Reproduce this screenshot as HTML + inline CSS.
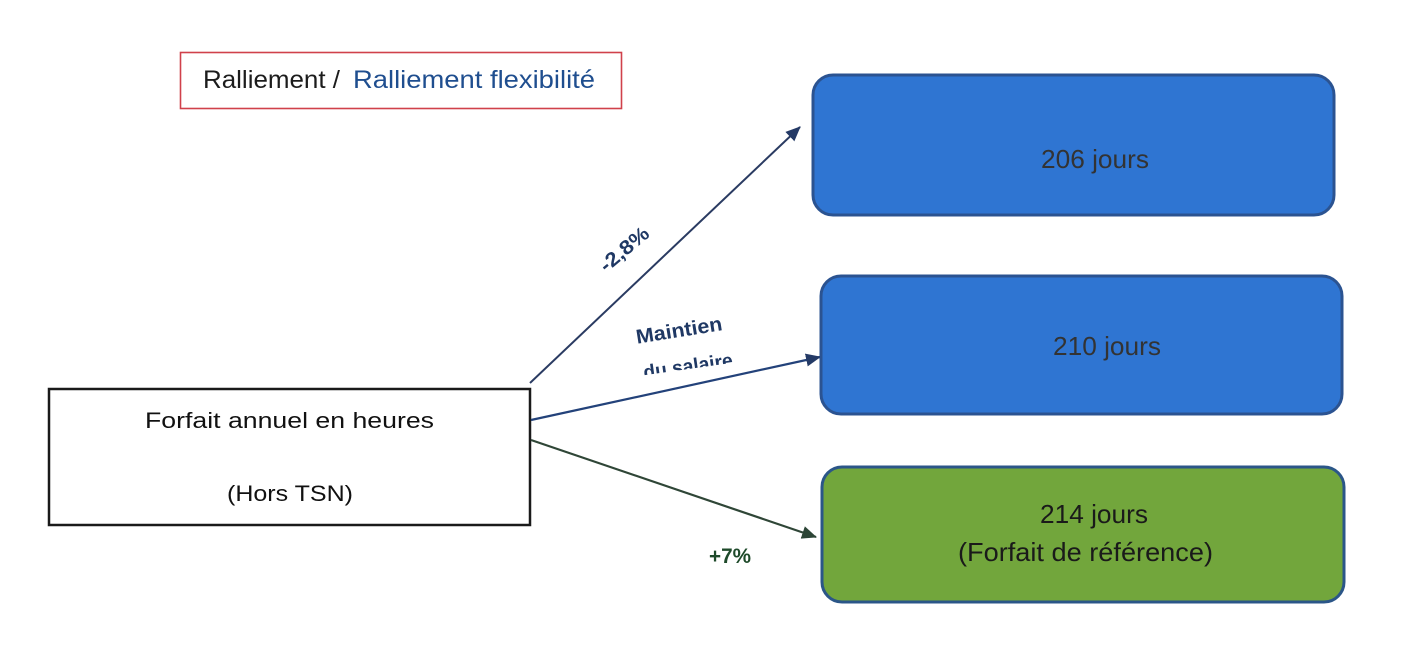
<!DOCTYPE html>
<html>
<head>
<meta charset="utf-8">
<style>
  html, body { margin:0; padding:0; background:#ffffff; }
  body { width:1416px; height:647px; overflow:hidden; }
  svg { display:block; }
  text { font-family: "Liberation Sans", "DejaVu Sans", sans-serif; }
</style>
</head>
<body>
<svg width="1416" height="647" viewBox="0 0 1416 647" xmlns="http://www.w3.org/2000/svg">
  <defs>
    <marker id="ahBlue" markerUnits="userSpaceOnUse" markerWidth="16" markerHeight="14" refX="14" refY="6.5" orient="auto">
      <path d="M0,0 L15,6.5 L0,13 Z" fill="#243a66"/>
    </marker>
    <marker id="ahGreen" markerUnits="userSpaceOnUse" markerWidth="16" markerHeight="14" refX="14" refY="6.5" orient="auto">
      <path d="M0,0 L15,6.5 L0,13 Z" fill="#2c4536"/>
    </marker>
    <clipPath id="clipSal" clipPathUnits="userSpaceOnUse">
      <rect x="-70" y="-30" width="140" height="33"/>
    </clipPath>
  </defs>

  <rect x="0" y="0" width="1416" height="647" fill="#ffffff"/>

  <!-- Title box -->
  <rect x="180.5" y="52.5" width="441" height="56" fill="#ffffff" stroke="#d0414b" stroke-width="1.6"/>
  <text x="203" y="88" font-size="25" fill="#1c1c1c" textLength="137" lengthAdjust="spacingAndGlyphs">Ralliement /</text>
  <text x="353" y="88" font-size="25" fill="#1f4e8f" textLength="242" lengthAdjust="spacingAndGlyphs">Ralliement flexibilité</text>

  <!-- Forfait box -->
  <rect x="49" y="389" width="481" height="136" fill="#ffffff" stroke="#1a1a1a" stroke-width="2.5"/>
  <text x="145" y="428" font-size="22" fill="#111111" textLength="289" lengthAdjust="spacingAndGlyphs">Forfait annuel en heures</text>
  <text x="227" y="501" font-size="22" fill="#111111" textLength="126" lengthAdjust="spacingAndGlyphs">(Hors TSN)</text>

  <!-- Arrows -->
  <line x1="530" y1="383" x2="800" y2="127" stroke="#2a3b62" stroke-width="2" marker-end="url(#ahBlue)"/>
  <line x1="531" y1="420" x2="820" y2="357" stroke="#23427a" stroke-width="2.2" marker-end="url(#ahBlue)"/>
  <line x1="531" y1="440" x2="816" y2="537" stroke="#2f4637" stroke-width="2.2" marker-end="url(#ahGreen)"/>

  <!-- Labels -->
  <g transform="translate(624,249) rotate(-40)">
    <text x="0" y="7" text-anchor="middle" font-size="20" font-weight="bold" fill="#1f3864" textLength="58" lengthAdjust="spacingAndGlyphs">-2,8%</text>
  </g>
  <g transform="translate(679,330) rotate(-9)">
    <text x="0" y="7" text-anchor="middle" font-size="20" font-weight="bold" fill="#1f3864" textLength="87" lengthAdjust="spacingAndGlyphs">Maintien</text>
  </g>
  <g transform="translate(688,366) rotate(-8)">
    <text x="0" y="7" text-anchor="middle" font-size="20" font-weight="bold" fill="#1f3864" textLength="90" lengthAdjust="spacingAndGlyphs" clip-path="url(#clipSal)">du salaire</text>
  </g>
  <text x="709" y="563" font-size="21" font-weight="bold" fill="#1e4a2a" textLength="42" lengthAdjust="spacingAndGlyphs">+7%</text>

  <!-- Right boxes -->
  <rect x="813" y="75" width="521" height="140" rx="20" ry="20" fill="#2f75d2" stroke="#2b5391" stroke-width="3"/>
  <text x="1041" y="168" font-size="26" fill="#333333" textLength="108" lengthAdjust="spacingAndGlyphs">206 jours</text>

  <rect x="821" y="276" width="521" height="138" rx="20" ry="20" fill="#2f75d2" stroke="#2b5391" stroke-width="3"/>
  <text x="1053" y="355" font-size="26" fill="#333333" textLength="108" lengthAdjust="spacingAndGlyphs">210 jours</text>

  <rect x="822" y="467" width="522" height="135" rx="20" ry="20" fill="#72a63c" stroke="#2b5688" stroke-width="3"/>
  <text x="1040" y="523" font-size="26" fill="#1a1a1a" textLength="108" lengthAdjust="spacingAndGlyphs">214 jours</text>
  <text x="958" y="561" font-size="26" fill="#1a1a1a" textLength="255" lengthAdjust="spacingAndGlyphs">(Forfait de référence)</text>
</svg>
</body>
</html>
